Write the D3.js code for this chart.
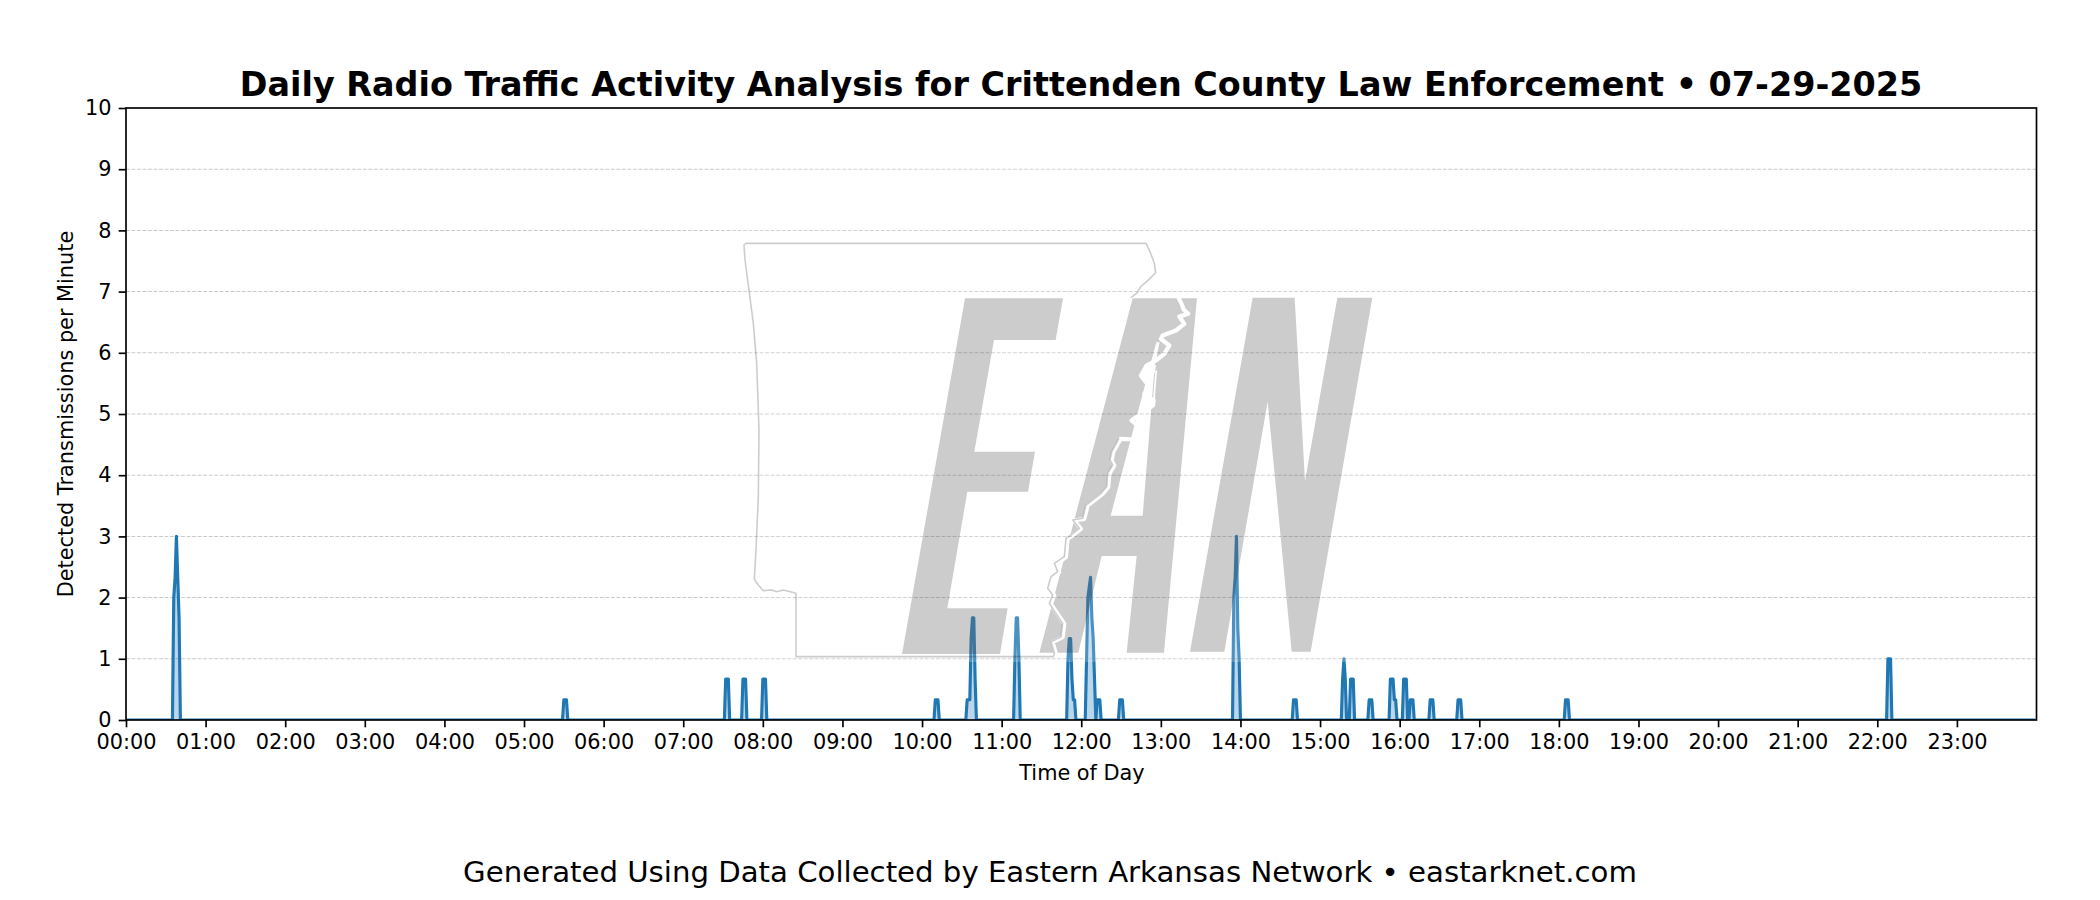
<!DOCTYPE html>
<html>
<head>
<meta charset="utf-8">
<style>
html,body{margin:0;padding:0;background:#fff;}
svg{display:block;font-family:"DejaVu Sans",sans-serif;}
</style>
<script src="https://cdn.jsdelivr.net/npm/d3@7"></script>
</head>
<body>
<svg id="chart" width="2100" height="900"></svg>
<script>
// ---- chart text ----
const titleText = "Daily Radio Traffic Activity Analysis for Crittenden County Law Enforcement \u2022 07-29-2025";
const footerText = "Generated Using Data Collected by Eastern Arkansas Network \u2022 eastarknet.com";
const xLabel = "Time of Day";
const yLabel = "Detected Transmissions per Minute";

// ---- tick values ----
const hourTicks = ["00:00","01:00","02:00","03:00","04:00","05:00","06:00","07:00","08:00","09:00","10:00","11:00",
                   "12:00","13:00","14:00","15:00","16:00","17:00","18:00","19:00","20:00","21:00","22:00","23:00"];
const rateTicks = [0,1,2,3,4,5,6,7,8,9,10];

// ---- series: minute of day and detected transmissions per minute ----
const minutes = [0,
  35,36,37,38,39,40,41,
  329,330,331,332,333,
  451,452,453,454,455,
  464,465,466,467,468,
  479,480,481,482,483,
  609,610,611,612,613,
  633,634,635,636,637,638,639,640,641,
  669,670,671,672,673,674,
  709,710,711,712,713,714,715,716,
  723,724,725,726,727,728,729,730,731,732,733,734,735,
  748,749,750,751,752,
  834,835,836,837,838,839,840,
  879,880,881,882,883,
  916,917,918,919,920,
  922,923,924,925,926,
  936,937,938,939,940,
  952,953,954,955,956,957,958,
  962,963,964,965,966,967,968,969,970,971,
  982,983,984,985,986,
  1003,1004,1005,1006,1007,
  1084,1085,1086,1087,1088,
  1327,1328,1329,1330,1331,
  1439];
const rates = [0,
  0,2,2.33,3,2.33,1.67,0,
  0,0.33,0.33,0.33,0,
  0,0.67,0.67,0.67,0,
  0,0.67,0.67,0.67,0,
  0,0.67,0.67,0.67,0,
  0,0.33,0.33,0.33,0,
  0,0.33,0.33,0.33,1.33,1.67,1.67,0.67,0,
  0,1,1.67,1.67,1,0,
  0,1,1.33,1.33,0.67,0.33,0.33,0,
  0,1,2,2.17,2.33,1.67,1.33,0.67,0,0.33,0.33,0.33,0,
  0,0.33,0.33,0.33,0,
  0,2,2.33,3,1.5,1,0,
  0,0.33,0.33,0.33,0,
  0,0.67,1,0.67,0,
  0,0.67,0.67,0.67,0,
  0,0.33,0.33,0.33,0,
  0,0.67,0.67,0.67,0.33,0.33,0,
  0,0.67,0.67,0.67,0,0,0.33,0.33,0.33,0,
  0,0.33,0.33,0.33,0,
  0,0.33,0.33,0.33,0,
  0,0.33,0.33,0.33,0,
  0,1,1,1,0,
  0];

// ---- watermark artwork, in its own artwork units ----
const letterE = [[735,205],[1029,205],[1007,330],[822,330],[763,665],[945,665],[924,785],[742,785],[682,1135],[863,1135],[840,1272],[546,1272]];
const letterA = [[1238,205],[1431,205],[1332,1268],[1220,1268],[1250,978],[1145,978],[1075,1268],[958,1268]];
const letterAHole = [[1310,332],[1268,857],[1172,857]];
const letterN = [[1598,203],[1724,203],[1755,752],[1852,203],[1957,203],[1772,1265],[1715,1265],[1643,515],[1513,1265],[1410,1265]];
const stateWest = [[1000,1280],[228,1280],[228,1090],[190,1080],[170,1085],[155,1080],[130,1082],[115,1065],[103,1048],[108,960],[115,800],[117,600],[110,400],[100,280],[75,90],[72,45],[78,40],[1278,40],[1290,65],[1303,100],[1307,128],[1280,155],[1262,170],[1250,190],[1232,203]];
const stateRiver = [[1232,196],[1368,196],[1380,220],[1386,237],[1400,250],[1373,258],[1388,280],[1363,300],[1323,315],[1318,325],[1343,345],[1328,370],[1303,390],[1275,405],[1258,435],[1273,455],[1288,447],[1278,480],[1268,490],[1296,510],[1293,525],[1258,550],[1230,570],[1253,590],[1243,627],[1197,625],[1175,665],[1170,690],[1178,705],[1163,730],[1160,770],[1143,790],[1098,825],[1088,865],[1058,870],[1078,895],[1053,915],[1038,925],[1033,980],[1003,1000],[1013,1025],[993,1040],[983,1075],[998,1095],[988,1120],[1008,1150],[1028,1180],[1023,1220],[993,1235],[1003,1270],[1000,1280]];
const riverIslandA = [[1310,335],[1298,395]];
const riverIslandB = [[1304,420],[1298,490],[1298,525],[1262,552]];
const riverBlob = [[1285,398],[1258,432],[1272,458],[1294,442],[1302,405]];

// ---- scales ----
const plot = {left:126, right:2036.5, top:108, bottom:720};
const x = d3.scaleLinear().domain([0,1440]).range([plot.left,plot.right]);
const y = d3.scaleLinear().domain([0,10]).range([plot.bottom,plot.top]);
const wmX = d3.scaleLinear().domain([0,1500]).range([720,1220]);
const wmY = d3.scaleLinear().domain([0,1350]).range([230,680]);

const series = minutes.map((m,i)=>({m, v:rates[i]}));
const svg = d3.select("#chart");
const defs = svg.append("defs");
defs.append("clipPath").attr("id","plotClip").append("rect")
  .attr("x",plot.left).attr("y",plot.top).attr("width",plot.right-plot.left).attr("height",plot.bottom-plot.top);

// grid
svg.append("g").selectAll("line").data(rateTicks.slice(1,-1)).join("line")
  .attr("x1",plot.left).attr("x2",plot.right)
  .attr("y1",d=>y(d)).attr("y2",d=>y(d))
  .attr("stroke","#c9c9c9").attr("stroke-width",1.04).attr("stroke-dasharray","3.85 1.66");

// series
const plotG = svg.append("g").attr("clip-path","url(#plotClip)");
plotG.append("path").datum(series)
  .attr("d",d3.area().x(d=>x(d.m)).y0(y(0)).y1(d=>y(d.v)))
  .attr("fill","#1f77b4").attr("fill-opacity",0.3);
plotG.append("path").datum(series)
  .attr("d",d3.line().x(d=>x(d.m)).y(d=>y(d.v)))
  .attr("fill","none").attr("stroke","#1f77b4").attr("stroke-width",3.125)
  .attr("stroke-linejoin","round");

// watermark over the data
const wmLine = d3.line().x(d=>wmX(d[0])).y(d=>wmY(d[1]));
const closed = pts => wmLine(pts)+"Z";
const mask = defs.append("mask").attr("id","riverMask").attr("maskUnits","userSpaceOnUse")
  .attr("x",0).attr("y",0).attr("width",2100).attr("height",900);
mask.append("rect").attr("width",2100).attr("height",900).attr("fill","#fff");
const maskG = mask.append("g").attr("transform","translate(1.6,0.5)").attr("fill","none").attr("stroke","#000").attr("stroke-linejoin","round");
maskG.append("path").attr("d",wmLine(stateRiver)).attr("stroke-width",4.2);
maskG.append("path").attr("d",wmLine(riverIslandA)).attr("stroke-width",2.6);
maskG.append("path").attr("d",wmLine(riverIslandB)).attr("stroke-width",1.8);
maskG.append("path").attr("d",closed(riverBlob)).attr("fill","#000").attr("stroke-width",1);

const wm = svg.append("g");
wm.append("rect").attr("x",730).attr("y",166).attr("width",702).attr("height",496)
  .attr("fill","#fff").attr("fill-opacity",0.2);
wm.append("path").attr("mask","url(#riverMask)")
  .attr("d",closed(letterE)+closed(letterA)+closed(letterAHole)+closed(letterN))
  .attr("fill","#000").attr("fill-opacity",0.2).attr("fill-rule","evenodd");
wm.append("path").attr("d",wmLine(stateWest)+wmLine(stateRiver.slice(25)))
  .attr("fill","none").attr("stroke","#000").attr("stroke-opacity",0.2)
  .attr("stroke-width",1.6).attr("stroke-linejoin","round");

// axes
const axisBottom = d3.axisBottom(x)
  .tickValues(hourTicks.map((_,i)=>i*60))
  .tickFormat((d,i)=>hourTicks[i]).tickSize(7.3).tickPadding(7.3);
const gx = svg.append("g").attr("transform",`translate(0,${plot.bottom})`).call(axisBottom);
const axisLeft = d3.axisLeft(y).tickValues(rateTicks).tickFormat(d3.format("d")).tickSize(7.3).tickPadding(7.3);
const gy = svg.append("g").attr("transform",`translate(${plot.left},0)`).call(axisLeft);
[gx,gy].forEach(g=>{
  g.select(".domain").remove();
  g.selectAll(".tick line").attr("stroke","#000").attr("stroke-width",1.67);
  g.selectAll(".tick text").attr("fill","#000").attr("font-size",20.83).attr("font-family","'DejaVu Sans'");
});

// spines
svg.append("rect").attr("x",plot.left).attr("y",plot.top)
  .attr("width",plot.right-plot.left).attr("height",plot.bottom-plot.top)
  .attr("fill","none").attr("stroke","#000").attr("stroke-width",1.67);

// text
svg.append("text").attr("x",1081).attr("y",96).attr("text-anchor","middle")
  .attr("font-size",33.4).attr("font-weight","bold").attr("fill","#000").text(titleText);
svg.append("text").attr("x",1082).attr("y",780).attr("text-anchor","middle")
  .attr("font-size",20.83).attr("fill","#000").text(xLabel);
svg.append("text").attr("transform",`translate(73,414) rotate(-90)`).attr("text-anchor","middle")
  .attr("font-size",20.83).attr("fill","#000").text(yLabel);
svg.append("text").attr("x",1050).attr("y",882).attr("text-anchor","middle")
  .attr("font-size",29.2).attr("fill","#000").text(footerText);
</script>
</body>
</html>
